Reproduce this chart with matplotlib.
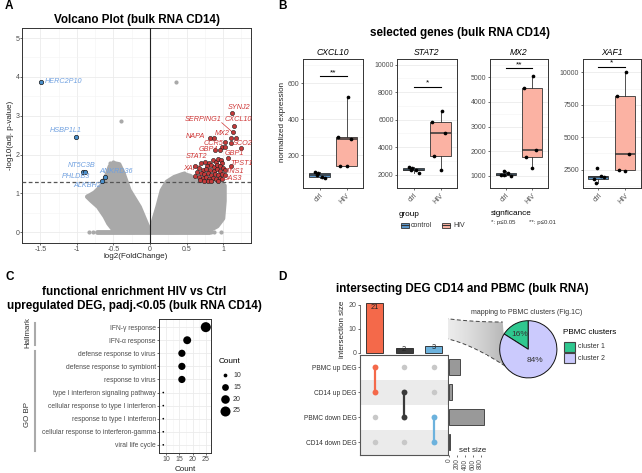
import numpy as np
import matplotlib
matplotlib.use('Agg')
import matplotlib.pyplot as plt
from matplotlib.patches import Polygon, Rectangle
import matplotlib.colors as mcolors

plt.rcParams['font.family'] = ['Liberation Sans', 'DejaVu Sans']

# ----------------------------- data -----------------------------
# Panel A: volcano
up_x = [1.12, 1.15, 1.13, 0.82, 0.87, 1.10, 1.17, 1.02, 1.10, 1.25, 0.99, 1.02, 0.89, 0.95, 1.07, 1.11,
        0.69, 0.61, 0.67, 0.75, 0.80, 0.86, 0.90, 0.93, 0.97, 0.99, 0.78, 0.84, 0.88, 0.92, 0.96, 1.00,
        0.72, 0.76, 0.82, 0.87, 0.91, 0.95, 1.03, 0.64, 0.70, 0.74, 0.79, 0.84, 0.89, 0.93, 0.98, 1.02,
        0.62, 0.67, 0.72, 0.77, 0.81, 0.86, 0.90, 0.95, 0.99, 0.68, 0.74, 0.79, 0.84, 0.93]
up_y = [3.07, 2.74, 2.57, 2.43, 2.43, 2.43, 2.43, 2.31, 2.30, 2.17, 2.19, 2.19, 2.12, 2.12, 1.91, 1.70,
        1.77, 1.71, 1.64, 1.80, 1.78, 1.85, 1.82, 1.88, 1.86, 1.78, 1.70, 1.72, 1.68, 1.73, 1.70, 1.66,
        1.60, 1.62, 1.60, 1.58, 1.62, 1.58, 1.60, 1.54, 1.52, 1.50, 1.52, 1.48, 1.50, 1.46, 1.50, 1.48,
        1.45, 1.42, 1.40, 1.42, 1.38, 1.40, 1.36, 1.40, 1.36, 1.34, 1.32, 1.31, 1.33, 1.32]
up_genes = ['SYNJ2', 'SERPING1', 'CXCL10', 'MX2', 'NAPA', 'CCR5', 'SCO2', 'GBP4', 'GBP1',
            'STAT2', 'TPST1', 'XAF1', 'TNS1', 'OAS3']
up_lab_x = [1.22, 0.73, 1.20, 0.99, 0.62, 0.87, 1.26, 0.80, 1.15, 0.63, 1.25, 0.58, 1.15, 1.13]
up_lab_y = [3.22, 2.89, 2.91, 2.53, 2.46, 2.28, 2.29, 2.12, 2.03, 1.94, 1.78, 1.64, 1.55, 1.38]

down_genes = ['HERC2P10', 'HSBP1L1', 'NT5C3B', 'PHLDB3', 'ANKRD36', 'ALKBH2']
down_x = [-1.49, -1.01, -0.92, -0.89, -0.62, -0.65]
down_y = [3.87, 2.44, 1.55, 1.55, 1.43, 1.33]
down_lab_x = [-1.44, -1.15, -0.94, -1.02, -0.46, -0.86]
down_lab_y = [3.87, 2.63, 1.71, 1.43, 1.57, 1.19]

gray_x = [0.36, -0.40, -0.55, -0.50, -0.47, -0.58, -0.86, -0.83, -0.78, 0.47, 0.55, 0.83, 0.88, 0.97,
          -0.66, 1.00, -0.70, -0.60, 0.50, 0.58]
gray_y = [3.86, 2.86, 1.78, 1.80, 1.74, 1.60, 0.92, 0.0, 0.0, 1.52, 1.45, 0.0, 0.0, 0.0,
          1.25, 1.20, 1.10, 1.45, 1.40, 1.30]
cloud_left_x = [0.0, -0.14, -0.28, -0.36, -0.42, -0.50, -0.55, -0.60, -0.66, -0.76, -0.86, -0.80,
                -0.71, -0.62, -0.57, -0.50, -0.30]
cloud_left_y = [0.02, 0.65, 1.08, 1.51, 1.75, 1.78, 1.70, 1.45, 1.20, 1.02, 0.91, 0.80,
                0.65, 0.40, 0.22, 0.05, 0.0]
cloud_right_x = [0.0, 0.10, 0.16, 0.23, 0.33, 0.45, 0.55, 0.62, 0.80, 0.95, 1.02, 1.02, 1.00,
                 0.92, 0.80, 0.30]
cloud_right_y = [0.02, 0.65, 1.08, 1.30, 1.42, 1.50, 1.45, 1.32, 1.28, 1.28, 1.20, 0.80, 0.35,
                 0.15, 0.03, 0.0]
cloud_base_x = [-0.72, 0.80]

# Panel B: boxplots
box_genes = ['CXCL10', 'STAT2', 'MX2', 'XAF1']
ctrl_vals = [[100, 81, 72, 109, 91],
             [2480, 2320, 2090, 2550, 2360],
             [1220, 1130, 1000, 1050, 1020],
             [2600, 2000, 1960, 1780, 1500]]
hiv_vals = [[526, 300, 292, 142, 140],
            [6650, 5800, 5000, 3350, 2320],
            [5035, 4545, 2045, 1755, 1325],
            [10040, 8170, 3710, 2480, 2430]]
ctrl_jit = [-0.05, 0.10, 0.20, -0.18, -0.08]
hiv_jit = [0.05, -0.30, 0.15, -0.23, 0.00]
sig_stars = ['**', '*', '**', '*']
sig_y = [640, 8400, 5350, 10420]
box_ylim = [(17, 733), (1519, 10392), (676, 5719), (1069, 11000)]
box_yticks = [[200, 400, 600], [2000, 4000, 6000, 8000, 10000], [1000, 2000, 3000, 4000, 5000],
              [2500, 5000, 7500, 10000]]
groups = ['ctrl', 'HIV']

# Panel C: enrichment
terms = ['IFN-γ response', 'IFN-α response', 'defense response to virus',
         'defense response to symbiont', 'response to virus',
         'type I interferon signaling pathway', 'cellular response to type I interferon',
         'response to type I interferon', 'cellular response to interferon-gamma',
         'viral life cycle']
counts = [25, 18, 16, 16, 16, 9, 9, 9, 9, 9]
count_breaks = [10, 15, 20, 25]

# Panel D: upset + pie
set_names = ['PBMC up DEG', 'CD14 up DEG', 'PBMC down DEG', 'CD14 down DEG']
set_sizes = [280, 60, 880, 15]
inter_sizes = [21, 2, 3]
inter_members = [[0, 1], [1, 2], [2, 3]]
inter_colors = ['#f4694a', '#3a3a3a', '#6cb2dd']
cluster_names = ['cluster 1', 'cluster 2']
cluster_pct = [16, 84]
cluster_colors = ['#2fc78f', '#cbcafd']

# ----------------------------- helpers -----------------------------
W, H = 642, 473
fig = plt.figure(figsize=(W / 100, H / 100), dpi=100)
TXT = '#4d4d4d'
BORDER = '#333333'
GRID = '#ebebeb'


def ax_px(x0, y0, x1, y1):
    return fig.add_axes([x0 / W, 1 - y1 / H, (x1 - x0) / W, (y1 - y0) / H])


def ftext(x, y, s, **kw):
    kw.setdefault('ha', 'center')
    kw.setdefault('va', 'center')
    return fig.text(x / W, 1 - y / H, s, **kw)


def bw(ax, lw=0.7):
    for sp in ax.spines.values():
        sp.set_color(BORDER)
        sp.set_linewidth(lw)
    ax.tick_params(length=1.6, width=0.5, color=BORDER, labelcolor=TXT, labelsize=5, pad=1.0)
    ax.tick_params(which='minor', length=0)
    ax.set_axisbelow(True)


# back overlay (for the zoom cone)
ovb = fig.add_axes([0, 0, 1, 1])
ovb.patch.set_visible(False)
ovb.axis('off')

# ----------------------------- Panel A -----------------------------
axA = ax_px(22, 28, 251, 243)
bw(axA)
axA.tick_params(length=1.3, pad=0.6)
axA.set_xlim(-1.63, 1.38)
axA.set_ylim(-0.28, 5.26)
axA.set_xticks([-1.5, -1, -0.5, 0, 0.5, 1])
axA.set_xticklabels(['-1.5', '-1', '-0.5', '0', '0.5', '1'])
axA.set_yticks([0, 1, 2, 3, 4, 5])
axA.set_xticks(np.arange(-1.75, 1.5, 0.5), minor=True)
axA.set_yticks(np.arange(0.5, 5.5, 1), minor=True)
axA.grid(True, which='major', color=GRID, lw=0.6)
axA.grid(True, which='minor', color='#f3f3f3', lw=0.4)
GRAY = '#a9a9a9'
for cx, cy in [(cloud_left_x, cloud_left_y), (cloud_right_x, cloud_right_y)]:
    axA.add_patch(Polygon(np.column_stack([cx, cy]), closed=True, fc=GRAY, ec=GRAY, lw=3,
                          joinstyle='round', zorder=2))
axA.plot(cloud_base_x, [0, 0], color=GRAY, lw=3.5, solid_capstyle='round', zorder=2)
axA.scatter(gray_x, gray_y, s=9, color=GRAY, lw=0, zorder=2)
axA.axvline(0, color='#222222', lw=0.8, zorder=3)
axA.axhline(-np.log10(0.05), color='#555555', lw=0.9, ls=(0, (3, 2)), zorder=3)
axA.scatter(up_x, up_y, s=9, color='#c43a3a', edgecolor='#1a1a1a', lw=0.4, zorder=5)
axA.scatter(down_x, down_y, s=10, color='#4a90cc', edgecolor='#1a1a1a', lw=0.5, zorder=5)
RED_T = '#cf3535'
BLUE_T = '#6fa0e0'
for g, lx, ly in zip(up_genes, up_lab_x, up_lab_y):
    axA.text(lx, ly, g, color=RED_T, fontsize=5.2, style='italic', ha='center', va='center',
             zorder=4 if g == 'XAF1' else 6, clip_on=False)
# segment SERPING1 -> its point
axA.plot([0.98, up_x[2]], [2.82, up_y[2]], color=RED_T, lw=0.5, zorder=4)
for g, lx, ly in zip(down_genes, down_lab_x, down_lab_y):
    axA.text(lx, ly, g, color=BLUE_T, fontsize=5.2, style='italic', ha='left' if g == 'HERC2P10' else 'center',
             va='center', zorder=6)
ftext(136.5, 20, 'Volcano Plot (bulk RNA CD14)', fontsize=8.4, fontweight='bold')
ftext(136, 256.5, 'log2(FoldChange)', fontsize=5.8, color='#222222')
ftext(10.5, 135, '-log10(adj. p-value)', fontsize=5.8, color='#222222', rotation=90)

# ----------------------------- Panel B -----------------------------
box_px = [(303.3, 362.7), (397.3, 456.7), (490, 547.7), (582.5, 641)]
CTRL_C = '#5b97cb'
HIV_C = '#fbb2a3'
for i, g in enumerate(box_genes):
    x0, x1 = box_px[i]
    ax = ax_px(x0, 59.3, x1, 188.3)
    bw(ax)
    ax.set_xlim(0.4, 2.6)
    ax.set_ylim(*box_ylim[i])
    ax.set_yticks(box_yticks[i])
    ax.set_yticklabels([str(v) for v in box_yticks[i]])
    yt = box_yticks[i]
    step = yt[1] - yt[0]
    ax.set_yticks(np.arange(yt[0] - step / 2, box_ylim[i][1], step), minor=True)
    ax.yaxis.grid(True, which='major', color=GRID, lw=0.6)
    ax.yaxis.grid(True, which='minor', color='#f3f3f3', lw=0.4)
    bp = ax.boxplot([ctrl_vals[i], hiv_vals[i]], positions=[1, 2], widths=0.75, patch_artist=True,
                    showfliers=False, showcaps=False,
                    medianprops=dict(color='#333333', lw=1.1),
                    whiskerprops=dict(color='#333333', lw=0.6),
                    boxprops=dict(edgecolor='#333333', lw=0.6))
    bp['boxes'][0].set_facecolor(CTRL_C)
    bp['boxes'][1].set_facecolor(HIV_C)
    ax.scatter(1 + np.array(ctrl_jit), ctrl_vals[i], s=7, color='black', zorder=4, lw=0)
    ax.scatter(2 + np.array(hiv_jit), hiv_vals[i], s=7, color='black', zorder=4, lw=0)
    ax.plot([1, 2], [sig_y[i], sig_y[i]], color='black', lw=0.8)
    ax.text(1.5, sig_y[i], sig_stars[i], ha='center', va='bottom', fontsize=6)
    ax.set_xticks([1, 2])
    ax.set_xticklabels(groups, rotation=45, ha='right', rotation_mode='anchor')
    ftext((x0 + x1) / 2, 52.3, g, fontsize=6.2, style='italic')
ftext(460, 33.3, 'selected genes (bulk RNA CD14)', fontsize=8.4, fontweight='bold')
ftext(282, 122, 'normalized expression', fontsize=5.8, rotation=90, color='#222222')
ftext(399, 214.3, 'group', fontsize=5.9, ha='left')
ftext(411, 225.3, 'control', fontsize=5, ha='left', color='#333333')
ftext(453, 225.3, 'HIV', fontsize=5, ha='left', color='#333333')
ftext(491, 213.3, 'signficance', fontsize=5.9, ha='left')
ftext(491, 222.3, '*: p≤0.05', fontsize=4.4, ha='left', color='#333333')
ftext(529, 222.3, '**: p≤0.01', fontsize=4.4, ha='left', color='#333333')

# ----------------------------- Panel C -----------------------------
def dot_area(c):
    d = 1.67 * (1 + 5 * np.sqrt((np.asarray(c, float) - min(counts)) / (max(counts) - min(counts))))
    return (d * 0.72) ** 2

axC = ax_px(159.3, 319.3, 210.7, 452.7)
bw(axC)
ny = len(terms)
ypos = np.arange(1, ny + 1)
axC.set_ylim(ny + 0.6, 0.4)
axC.set_xlim(8.15, 26.85)
axC.set_xticks(count_breaks)
axC.set_xticks(np.arange(7.5, 27.5, 5), minor=True)
axC.set_yticks(ypos)
axC.set_yticklabels(terms, fontsize=4.9)
axC.grid(True, which='major', color=GRID, lw=0.6)
axC.xaxis.grid(True, which='minor', color='#f3f3f3', lw=0.4)
axC.scatter(counts, ypos, s=dot_area(counts), color='black', lw=0, zorder=3)
ftext(134, 291.7, 'functional enrichment HIV vs Ctrl', fontsize=8.4, fontweight='bold')
ftext(134, 306, 'upregulated DEG, padj.<0.05 (bulk RNA CD14)', fontsize=8.4, fontweight='bold')
ftext(185, 469.3, 'Count', fontsize=5.8, color='#222222')
ftext(219, 361.5, 'Count', fontsize=5.9, ha='left')
ftext(27.7, 333, 'Hallmark', fontsize=5.7, rotation=90, color='#333333')
ftext(27.7, 414, 'GO BP', fontsize=5.7, rotation=90, color='#333333')

# ----------------------------- Panel D -----------------------------
ncol = len(inter_sizes)
axBar = ax_px(360, 298, 448.3, 354.7)
axBar.set_xlim(0, ncol)
axBar.set_ylim(-0.8, 22.9)
for s in ['top', 'right', 'bottom']:
    axBar.spines[s].set_visible(False)
axBar.spines['left'].set_color(BORDER)
axBar.spines['left'].set_linewidth(0.5)
axBar.spines['left'].set_bounds(0, 20)
axBar.set_xticks([])
axBar.set_yticks([0, 10, 20])
axBar.tick_params(length=1.6, width=0.5, color=BORDER, labelcolor=TXT, labelsize=5, pad=1.0)
xc = np.arange(ncol) + 0.5
axBar.bar(xc, inter_sizes, width=0.58, color=inter_colors, edgecolor='#222222', lw=0.6)
for xi, v in zip(xc, inter_sizes):
    axBar.text(xi, v - 1.9 if v > 5 else v - 0.8, str(v), ha='center', va='center', fontsize=5.3,
               color='#222222')

axM = ax_px(360, 354.7, 448.3, 455)
axM.set_xlim(0, ncol)
axM.set_ylim(len(set_names), 0)
for sp in axM.spines.values():
    sp.set_color('#555555')
    sp.set_linewidth(0.8)
for r in range(len(set_names)):
    if r % 2 == 1:
        axM.axhspan(r, r + 1, color='#ebebeb', lw=0, zorder=0)
axM.set_xticks([])
axM.set_yticks(np.arange(len(set_names)) + 0.5)
axM.set_yticklabels(set_names)
axM.tick_params(length=1.6, width=0.5, color=BORDER, labelcolor='#333333', labelsize=4.8, pad=1.0)
for c in range(ncol):
    for r in range(len(set_names)):
        if r not in inter_members[c]:
            axM.scatter(c + 0.5, r + 0.5, s=16, color='#c8c8c8', lw=0, zorder=2)
    mem = inter_members[c]
    axM.plot([c + 0.5] * len(mem), np.array(mem) + 0.5, color=inter_colors[c], lw=1.6, zorder=2)
    axM.scatter([c + 0.5] * len(mem), np.array(mem) + 0.5, s=18, color=inter_colors[c], lw=0, zorder=3)

axS = ax_px(449.3, 354.7, 486.5, 455)
axS.set_ylim(len(set_names), 0)
axS.set_xlim(0, 953)
for s in ['top', 'right', 'left', 'bottom']:
    axS.spines[s].set_visible(False)
axS.barh(np.arange(len(set_names)) + 0.5, set_sizes, height=0.64, color='#999999',
         edgecolor='#333333', lw=0.6)
axS.set_yticks([])
axS.set_xticks([0, 200, 400, 600, 800])
axS.set_xticklabels(['0', '200', '400', '600', '800'], rotation=90)
axS.tick_params(length=1.6, width=0.5, color=BORDER, labelcolor=TXT, labelsize=4.8, pad=1)
ftext(472.7, 450, 'set size', fontsize=5.8, color='#222222')
ftext(342.7, 329, 'intersection size', fontsize=5.8, rotation=90, color='#222222')
ftext(462, 289.3, 'intersecting DEG CD14 and PBMC (bulk RNA)', fontsize=8.4, fontweight='bold')

# pie
pcx, pcy, pr = 528.3, 349.3, 28.6
axP = ax_px(pcx - pr, pcy - pr, pcx + pr, pcy + pr)
axP.patch.set_visible(False)
axP.pie(cluster_pct, colors=cluster_colors, startangle=90, counterclock=True,
        wedgeprops=dict(edgecolor='#111111', lw=0.7))
axP.set_xlim(-1, 1)
axP.set_ylim(-1, 1)
axP.set_aspect('equal')
axP.axis('off')
ang0 = 90
for pct, rr in zip(cluster_pct, [0.6, 0.45]):
    mid = np.deg2rad(ang0 + pct * 3.6 / 2)
    axP.text(rr * np.cos(mid), rr * np.sin(mid), f'{pct}%', ha='center', va='center', fontsize=6,
             color='#333333')
    ang0 += pct * 3.6
ftext(526.7, 312, 'mapping to PBMC clusters (Fig.1C)', fontsize=5.0, color='#333333')
ftext(562.7, 333, 'PBMC clusters', fontsize=5.9, ha='left')
ftext(578, 346.7, cluster_names[0], fontsize=5, ha='left', color='#333333')
ftext(578, 358.3, cluster_names[1], fontsize=5, ha='left', color='#333333')

# zoom cone (back overlay)
def to_ov(ax, x, y):
    d = ax.transData.transform((x, y))
    return np.array([d[0], H - d[1]])


def bez(p0, p1, p2, p3, n=80):
    t = np.linspace(0, 1, n)[:, None]
    return (1 - t) ** 3 * p0 + 3 * (1 - t) ** 2 * t * p1 + 3 * (1 - t) * t ** 2 * p2 + t ** 3 * p3

bar_w = 0.58
u0 = to_ov(axBar, xc[0] + bar_w / 2, inter_sizes[0])
l0 = to_ov(axBar, xc[0] + bar_w / 2 + 0.05, 0)
u3 = np.array([pcx - pr + 3, pcy - pr + 1.3])
l3 = np.array([pcx - pr * 0.77, pcy + pr * 0.61])
upper = bez(u0, u0 + [32, 12], u3 + [-53, 0], u3)
lower = bez(l0, l0 + [35, -23], l3 + [-57, -37], l3)
cone = np.vstack([upper, lower[::-1]])
grad = np.linspace(0, 1, 256)[None, :] ** 2.2
cmap = mcolors.LinearSegmentedColormap.from_list('g', ['#ffffff', '#b0b0b0'])
im = ovb.imshow(grad, extent=(u0[0], u3[0] + 6, pcy + pr, pcy - pr - 10), cmap=cmap, aspect='auto',
                zorder=1)
cpoly = Polygon(cone, closed=True, fc='none', ec='none', transform=ovb.transData)
ovb.add_patch(cpoly)
im.set_clip_path(cpoly)
ovb.plot(upper[:, 0], upper[:, 1], color='#444444', lw=0.7, ls=(0, (4, 2.5)), zorder=2)
ovb.plot(lower[:, 0], lower[:, 1], color='#444444', lw=0.7, ls=(0, (4, 2.5)), zorder=2)
ovb.set_xlim(0, W)
ovb.set_ylim(H, 0)

# front overlay (legend keys, group bars)
ovf = fig.add_axes([0, 0, 1, 1])
ovf.patch.set_visible(False)
ovf.axis('off')
ovf.set_xlim(0, W)
ovf.set_ylim(H, 0)
# Count legend
for b, yy in zip(count_breaks, [375, 387, 399, 411]):
    ovf.scatter(225, yy, s=dot_area(b), color='black', lw=0)
    ftext(233, yy, str(b), fontsize=5, ha='left', color='#333333')
# Hallmark / GO BP bars
ovf.plot([35, 35], [323, 345], color='#aaaaaa', lw=1.5)
ovf.plot([35, 35], [351, 451], color='#aaaaaa', lw=1.5)
# group legend keys
for kx, col in [(401, CTRL_C), (442, HIV_C)]:
    ovf.add_patch(Rectangle((kx, 222.6), 7.8, 5.4, fc=col, ec='#333333', lw=0.6))
    ovf.plot([kx, kx + 7.8], [225.3, 225.3], color='#333333', lw=0.8)
# PBMC cluster keys
for ky, col in zip([341.7, 353.3], cluster_colors):
    ovf.add_patch(Rectangle((564, ky), 11, 10, fc=col, ec='#444444', lw=0.8))

# panel letters
for lab, x, y in [('A', 5, 6), ('B', 278, 6), ('C', 5, 277), ('D', 278, 277)]:
    ftext(x, y, lab, fontsize=8.5, fontweight='bold', ha='left')

fig.savefig('out.png', dpi=100)
